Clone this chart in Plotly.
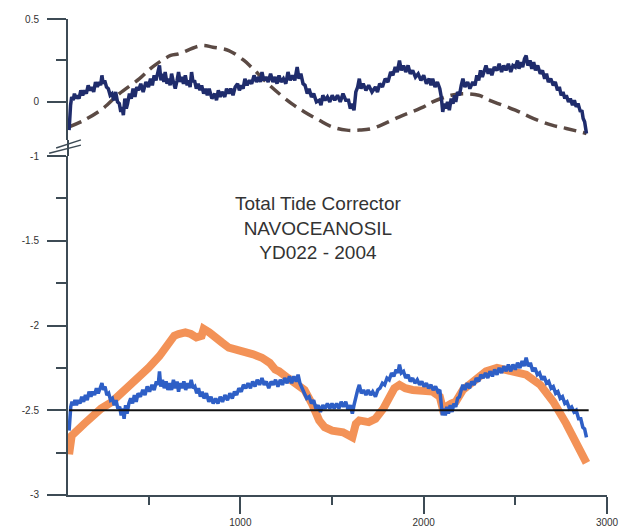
import plotly.graph_objects as go

# ---- data ----
navy_x = [66,70,74,80,88,95,103,110,120,130,140,150,160,170,180,190,200,210,220,230,238,245,252,260,270,280,290,300,310,320,330,340,348,355,362,370,378,385,395,405,415,425,435,445,457,470,485,499,510,520,530,540,550,559,567,575,583,590,600,608,617,625,635,645,655,663,672,680,690,700,710,718,726,734,742,750,760,770,780,789,800,810,820,830,845,860,870,880,890,900,915,925,937,948,960,972,985,995,1005,1015,1025,1037,1050,1062,1075,1088,1100,1110,1118,1128,1140,1152,1165,1178,1190,1200,1211,1222,1235,1248,1260,1272,1285,1297,1310,1320,1330,1342,1353,1365,1375,1388,1400,1415,1430,1440,1450,1462,1475,1488,1501,1515,1530,1545,1560,1575,1590,1600,1611,1620,1630,1640,1649,1658,1670,1685,1700,1718,1737,1748,1760,1775,1790,1805,1820,1832,1845,1856,1868,1878,1890,1902,1915,1927,1940,1955,1970,1985,2000,2015,2030,2040,2049,2062,2075,2088,2096,2100,2104,2112,2120,2130,2140,2150,2160,2168,2175,2185,2195,2205,2214,2225,2240,2252,2268,2280,2290,2300,2310,2320,2330,2340,2352,2362,2372,2385,2400,2412,2425,2437,2449,2462,2475,2487,2500,2512,2520,2530,2540,2550,2559,2568,2580,2590,2600,2610,2622,2636,2648,2660,2670,2680,2693,2707,2718,2730,2740,2750,2760,2770,2778,2790,2800,2812,2822,2832,2842,2855,2863,2870,2878,2888]
navy_y = [-0.17,-0.08,-0.02,0.03,0.01,0.05,0.02,0.04,0.02,0.07,0.04,0.07,0.05,0.10,0.07,0.09,0.06,0.12,0.09,0.12,0.10,0.16,0.11,0.13,0.09,0.08,0.04,0.05,0.01,0.06,0.00,-0.01,-0.06,-0.03,-0.08,0.02,-0.04,-0.01,0.05,0.02,0.08,0.03,0.09,0.07,0.11,0.06,0.12,0.09,0.14,0.10,0.16,0.13,0.19,0.22,0.13,0.17,0.12,0.18,0.11,0.14,0.10,0.17,0.12,0.08,0.13,0.18,0.12,0.15,0.11,0.16,0.10,0.13,0.09,0.18,0.12,0.13,0.08,0.11,0.07,0.10,0.05,0.08,0.04,0.08,0.02,0.05,0.01,0.07,0.03,0.06,0.03,0.08,0.05,0.08,0.04,0.09,0.11,0.07,0.10,0.08,0.14,0.10,0.13,0.11,0.16,0.12,0.15,0.12,0.18,0.13,0.15,0.12,0.17,0.12,0.15,0.11,0.16,0.12,0.14,0.11,0.18,0.13,0.16,0.13,0.21,0.14,0.17,0.11,0.10,0.05,0.08,0.03,0.05,0.00,0.01,-0.02,0.04,0.01,0.03,0.00,0.04,0.01,0.04,0.00,0.05,0.01,0.01,-0.04,-0.01,-0.05,0.06,0.09,0.14,0.08,0.11,0.07,0.10,0.06,0.09,0.06,0.11,0.09,0.14,0.12,0.18,0.16,0.21,0.18,0.25,0.19,0.22,0.18,0.22,0.17,0.19,0.15,0.17,0.13,0.16,0.11,0.14,0.10,0.14,0.09,0.12,0.08,0.03,-0.03,-0.06,-0.01,-0.04,0.00,-0.05,0.02,-0.01,0.04,0.00,0.06,0.04,0.10,0.14,0.09,0.12,0.08,0.12,0.10,0.16,0.13,0.19,0.15,0.19,0.22,0.17,0.20,0.16,0.21,0.19,0.23,0.18,0.22,0.19,0.23,0.18,0.22,0.21,0.25,0.20,0.24,0.21,0.26,0.28,0.22,0.25,0.20,0.24,0.19,0.22,0.17,0.19,0.14,0.17,0.12,0.14,0.10,0.12,0.07,0.09,0.04,0.06,0.02,0.04,0.00,0.02,-0.02,0.01,-0.03,-0.01,-0.06,-0.05,-0.10,-0.12,-0.19]

dash_x = [66,148,250,340,450,520,620,663,789,850,937,1020,1060,1170,1280,1350,1430,1500,1580,1650,1720,1868,2000,2049,2150,2214,2300,2360,2500,2600,2700,2778,2888]
dash_y = [-0.15,-0.11,-0.04,0.05,0.14,0.21,0.28,0.29,0.34,0.33,0.31,0.25,0.21,0.09,-0.01,-0.06,-0.11,-0.15,-0.17,-0.17,-0.16,-0.09,-0.03,0.00,0.04,0.05,0.04,0.01,-0.05,-0.10,-0.14,-0.16,-0.19]

blue_x = [66,70,75,82,90,98,106,115,125,135,145,155,165,175,185,195,205,215,225,235,245,253,262,272,282,292,302,312,322,332,342,350,358,366,374,382,392,402,412,422,432,442,455,468,480,492,505,518,530,542,552,559,566,575,585,595,605,615,625,635,645,655,663,672,682,692,702,712,722,732,742,752,762,772,782,792,802,815,828,840,852,865,878,890,903,916,930,943,956,968,980,992,1005,1017,1030,1042,1055,1067,1080,1092,1105,1118,1130,1142,1155,1168,1180,1192,1205,1218,1230,1242,1255,1268,1280,1292,1305,1315,1325,1337,1350,1362,1375,1388,1400,1412,1425,1437,1450,1462,1475,1488,1500,1512,1525,1538,1550,1562,1575,1588,1600,1611,1620,1630,1640,1649,1660,1672,1685,1697,1710,1722,1737,1750,1762,1775,1787,1800,1812,1825,1837,1850,1860,1868,1878,1890,1902,1915,1927,1940,1952,1965,1978,1990,2002,2015,2027,2040,2052,2065,2077,2088,2096,2102,2110,2118,2126,2135,2145,2155,2165,2175,2185,2195,2205,2214,2225,2237,2250,2262,2275,2287,2300,2312,2325,2337,2350,2362,2375,2387,2400,2412,2425,2437,2450,2462,2475,2487,2500,2512,2525,2537,2548,2559,2570,2582,2595,2607,2620,2632,2645,2657,2670,2682,2695,2707,2720,2732,2745,2757,2770,2782,2795,2807,2820,2832,2845,2857,2868,2878,2888]
blue_y = [-2.62,-2.55,-2.48,-2.45,-2.47,-2.44,-2.47,-2.44,-2.46,-2.42,-2.45,-2.41,-2.44,-2.39,-2.42,-2.39,-2.41,-2.37,-2.40,-2.37,-2.34,-2.38,-2.36,-2.41,-2.40,-2.44,-2.43,-2.47,-2.44,-2.49,-2.48,-2.53,-2.49,-2.55,-2.47,-2.52,-2.46,-2.43,-2.46,-2.41,-2.45,-2.40,-2.42,-2.38,-2.41,-2.36,-2.39,-2.35,-2.38,-2.33,-2.35,-2.27,-2.36,-2.32,-2.37,-2.33,-2.38,-2.34,-2.38,-2.32,-2.37,-2.33,-2.39,-2.34,-2.37,-2.33,-2.38,-2.34,-2.37,-2.32,-2.37,-2.36,-2.40,-2.37,-2.42,-2.39,-2.43,-2.40,-2.45,-2.42,-2.46,-2.43,-2.46,-2.42,-2.45,-2.41,-2.44,-2.40,-2.43,-2.39,-2.41,-2.37,-2.39,-2.35,-2.37,-2.34,-2.37,-2.33,-2.36,-2.32,-2.35,-2.31,-2.35,-2.33,-2.37,-2.33,-2.35,-2.32,-2.36,-2.32,-2.35,-2.31,-2.34,-2.30,-2.34,-2.30,-2.33,-2.29,-2.34,-2.37,-2.40,-2.43,-2.42,-2.46,-2.44,-2.49,-2.47,-2.51,-2.47,-2.49,-2.46,-2.49,-2.46,-2.49,-2.46,-2.49,-2.45,-2.48,-2.45,-2.50,-2.47,-2.52,-2.47,-2.42,-2.38,-2.35,-2.40,-2.38,-2.41,-2.38,-2.41,-2.39,-2.42,-2.38,-2.37,-2.34,-2.35,-2.31,-2.32,-2.28,-2.30,-2.26,-2.28,-2.23,-2.28,-2.27,-2.31,-2.29,-2.33,-2.31,-2.34,-2.32,-2.35,-2.33,-2.36,-2.34,-2.37,-2.35,-2.38,-2.36,-2.39,-2.38,-2.45,-2.53,-2.49,-2.53,-2.48,-2.52,-2.47,-2.51,-2.46,-2.48,-2.43,-2.42,-2.38,-2.35,-2.38,-2.34,-2.37,-2.33,-2.35,-2.31,-2.33,-2.29,-2.31,-2.28,-2.31,-2.27,-2.30,-2.26,-2.29,-2.25,-2.28,-2.24,-2.27,-2.23,-2.27,-2.23,-2.26,-2.22,-2.25,-2.21,-2.24,-2.19,-2.24,-2.22,-2.27,-2.25,-2.29,-2.28,-2.32,-2.30,-2.34,-2.33,-2.37,-2.36,-2.40,-2.39,-2.43,-2.42,-2.46,-2.45,-2.49,-2.48,-2.51,-2.50,-2.55,-2.55,-2.60,-2.61,-2.66]

orange_x = [66,80,148,241,300,351,405,499,559,608,640,663,700,730,760,789,800,830,860,900,937,980,1025,1070,1118,1160,1190,1211,1260,1310,1350,1390,1430,1460,1501,1560,1611,1630,1649,1700,1737,1780,1810,1840,1868,1900,1940,2000,2049,2088,2104,2150,2175,2214,2268,2340,2400,2449,2520,2559,2636,2707,2778,2840,2888]
orange_y = [-2.76,-2.65,-2.58,-2.49,-2.45,-2.40,-2.35,-2.25,-2.18,-2.10,-2.06,-2.05,-2.04,-2.05,-2.07,-2.06,-2.02,-2.04,-2.07,-2.10,-2.13,-2.14,-2.16,-2.17,-2.19,-2.22,-2.26,-2.27,-2.31,-2.35,-2.38,-2.46,-2.56,-2.60,-2.62,-2.63,-2.66,-2.58,-2.56,-2.57,-2.55,-2.49,-2.42,-2.37,-2.35,-2.37,-2.38,-2.39,-2.39,-2.42,-2.49,-2.46,-2.45,-2.38,-2.33,-2.27,-2.25,-2.26,-2.28,-2.29,-2.35,-2.45,-2.58,-2.70,-2.81]

ref_x = [66, 2900]
ref_y = [-2.5, -2.5]

title_lines = ["Total Tide Corrector", "NAVOCEANOSIL", "YD022 - 2004"]

AX = "#3d4b55"
FONT = "Liberation Sans, Arial, sans-serif"

fig = go.Figure()
fig.add_trace(go.Scatter(x=orange_x, y=orange_y, mode="lines", line=dict(color="#f28745", width=8), opacity=0.9, xaxis="x", yaxis="y"))
fig.add_trace(go.Scatter(x=blue_x, y=blue_y, mode="lines", line=dict(color="#2e5fc6", width=3.5), xaxis="x", yaxis="y"))
fig.add_trace(go.Scatter(x=ref_x, y=ref_y, mode="lines", line=dict(color="#111111", width=2), xaxis="x", yaxis="y"))
fig.add_trace(go.Scatter(x=dash_x, y=dash_y, mode="lines", line=dict(color="#5b4a44", width=3.5, dash="13px,7px", shape="spline"), xaxis="x2", yaxis="y2"))
fig.add_trace(go.Scatter(x=navy_x, y=navy_y, mode="lines", line=dict(color="#1f2c6c", width=3.5), xaxis="x2", yaxis="y2"))

LOW_TOP = 0.712
UP_BOT = 0.746
xcommon = dict(range=[60, 3000], showgrid=False, zeroline=False)
fig.update_layout(
    width=631, height=540,
    margin=dict(l=68, r=17, t=19, b=38),
    paper_bgcolor="white", plot_bgcolor="white",
    showlegend=False, hovermode=False,
    font=dict(family=FONT, size=10, color="#333333"),
    xaxis=dict(**xcommon, domain=[0, 1], anchor="y", showline=True, linecolor=AX, linewidth=2,
               ticks="outside", ticklen=17, tickwidth=2, tickcolor=AX,
               tickvals=[1000, 2000, 3000], ticktext=["1000", "2000", "3000"],
               ticklabeloverflow="allow",
               minor=dict(tickvals=[500, 1500, 2500], ticks="outside", ticklen=8, tickwidth=2, tickcolor=AX),
               tickfont=dict(size=10, color="#333333")),
    xaxis2=dict(**xcommon, domain=[0, 1], anchor="y2", matches="x", visible=False),
    yaxis=dict(domain=[0, LOW_TOP], range=[-3, -1], anchor="x", showgrid=False, zeroline=False,
               showline=True, linecolor=AX, linewidth=2,
               ticks="outside", ticklen=19, tickwidth=2, tickcolor=AX,
               tickvals=[-3, -2.5, -2, -1.5, -1], ticktext=["-3", "-2.5", "-2", "-1.5", "-1"],
               minor=dict(tickvals=[-2.75, -2.25, -1.75, -1.25], ticks="outside", ticklen=10, tickwidth=2, tickcolor=AX),
               ticklabelstandoff=6, tickfont=dict(size=10, color="#333333")),
    yaxis2=dict(domain=[UP_BOT, 1], range=[-0.229, 0.5], anchor="x2", showgrid=False, zeroline=False,
                showline=True, linecolor=AX, linewidth=2,
                ticks="outside", ticklen=19, tickwidth=2, tickcolor=AX,
                tickvals=[0, 0.5], ticktext=["0", "0.5"],
                minor=dict(tickvals=[0.25], ticks="outside", ticklen=10, tickwidth=2, tickcolor=AX),
                ticklabelstandoff=6, tickfont=dict(size=10, color="#333333")),
)

# axis line through break and break marks
fig.add_shape(type="line", xref="paper", yref="paper", x0=0, x1=0, y0=LOW_TOP, y1=UP_BOT,
              line=dict(color=AX, width=2))
for (ya, yb, xa) in ((0.718, 0.735, -0.035), (0.729, 0.746, -0.022)):
    fig.add_shape(type="line", xref="paper", yref="paper", x0=xa, x1=0.024,
                  y0=ya, y1=yb, line=dict(color=AX, width=1.5))

fig.add_annotation(x=0.464, y=0.56, xref="paper", yref="paper", showarrow=False,
                   text="<br>".join(title_lines), align="center",
                   font=dict(family=FONT, size=19, color="#333333"))

# pin the figure to the window corner so the page never scrolls
pin = ("document.documentElement.style.overflow='hidden';"
       "document.body.style.margin='0';document.body.style.overflow='hidden';"
       "var d=document.getElementById('{plot_id}');"
       "d.style.position='fixed';d.style.left='0px';d.style.top='0px';")
fig.write_html("out.html", config={"displayModeBar": False}, post_script=pin)
